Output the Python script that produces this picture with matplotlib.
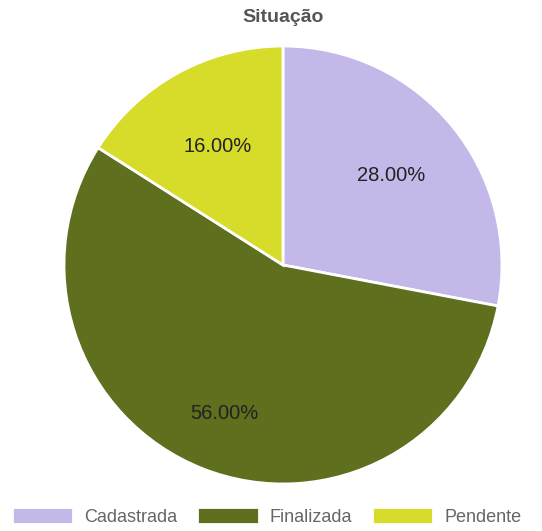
import numpy as np
import matplotlib.pyplot as plt

labels = ["Cadastrada", "Finalizada", "Pendente"]
values = [28, 56, 16]
colors = ["#c4b8e9", "#5e6f1d", "#d7dc2b"]
label_dist = [0.64, 0.73, 0.62]

plt.rcParams['font.family'] = ['Liberation Sans', 'DejaVu Sans']

fig = plt.figure(figsize=(5.42, 5.31), dpi=100)
ax = fig.add_axes([0.1181, 0.0885, 0.808, 0.8249])

wedges, texts, autotexts = ax.pie(
    values, colors=colors, startangle=90, counterclock=False,
    autopct='%.2f%%', pctdistance=0.65,
    wedgeprops=dict(edgecolor='white', linewidth=2),
    textprops=dict(fontsize=14.5, color='#222222'))
# move the percentage labels along each wedge's bisector
for w, t, d in zip(wedges, autotexts, label_dist):
    ang = np.deg2rad((w.theta1 + w.theta2) / 2)
    t.set_position((d * np.cos(ang), d * np.sin(ang)))
ax.set_xlim(-1, 1)
ax.set_ylim(-1, 1)
ax.set_aspect('equal')

fig.text(0.522, 0.967, "Situação", ha='center', va='center',
         fontsize=14, fontweight='bold', color='#555555')

fig.legend(wedges, labels, loc='center', bbox_to_anchor=(0.492, 0.028),
           ncol=3, frameon=False, fontsize=13, handlelength=3.4,
           handleheight=1.1, handletextpad=0.6, columnspacing=1.1,
           labelcolor='#666666')

fig.savefig("out.png", dpi=100)
